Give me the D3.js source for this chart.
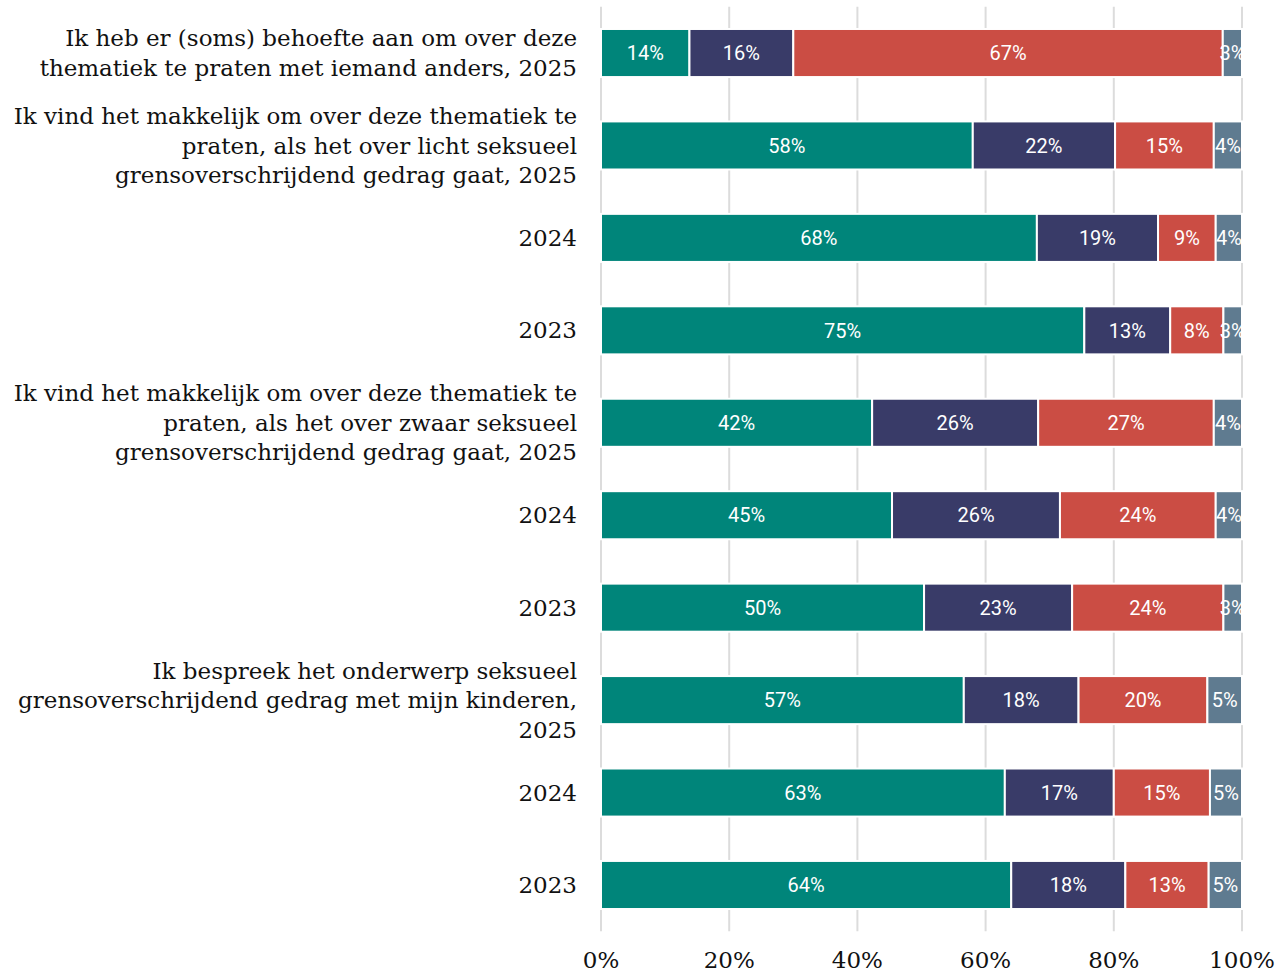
<!DOCTYPE html>
<html>
<head>
<meta charset="utf-8">
<script src="https://cdn.jsdelivr.net/npm/d3@7"></script>
<style>
  body { margin: 0; background: #fff; }
</style>
</head>
<body>
<script>
// row labels, one array of lines per bar
var rowLabels = [
  ["Ik heb er (soms) behoefte aan om over deze", "thematiek te praten met iemand anders, 2025"],
  ["Ik vind het makkelijk om over deze thematiek te", "praten, als het over licht seksueel", "grensoverschrijdend gedrag gaat, 2025"],
  ["2024"],
  ["2023"],
  ["Ik vind het makkelijk om over deze thematiek te", "praten, als het over zwaar seksueel", "grensoverschrijdend gedrag gaat, 2025"],
  ["2024"],
  ["2023"],
  ["Ik bespreek het onderwerp seksueel", "grensoverschrijdend gedrag met mijn kinderen,", "2025"],
  ["2024"],
  ["2023"]
];

// series values (percent)
var serieA = [13.8, 58.0, 68.0, 75.4, 42.3, 45.4, 50.4, 56.6, 63.0, 64.0];
var serieB = [16.2, 22.2, 18.9, 13.4, 25.9, 26.2, 23.1, 17.9, 17.0, 17.8];
var serieC = [67.0, 15.4, 9.0, 8.3, 27.4, 24.3, 23.6, 20.1, 15.0, 13.0];
var serieD = [3.0, 4.4, 4.1, 2.9, 4.4, 4.1, 2.9, 5.4, 5.0, 5.2];

var seriesKeys = ["a", "b", "c", "d"];
var seriesColors = ["#00857a", "#393b68", "#cb4d44", "#5f7b90"];
var tickValues = [0, 20, 40, 60, 80, 100];

var width = 1280, height = 973;
var svg = d3.select("body").append("svg").attr("width", width).attr("height", height);

var rows = rowLabels.map(function(lbl, i) {
  return { i: i, a: serieA[i], b: serieB[i], c: serieC[i], d: serieD[i] };
});

var x = d3.scaleLinear().domain([0, 100]).range([601, 1242]);
var y = d3.scaleBand().domain(d3.range(rows.length)).range([6.8, 931.2])
  .paddingInner(0.48).paddingOuter(0.24);
var color = d3.scaleOrdinal().domain(seriesKeys).range(seriesColors);

// gridlines
svg.append("g").selectAll("line").data(tickValues).enter().append("line")
  .attr("x1", function(d) { return x(d); })
  .attr("x2", function(d) { return x(d); })
  .attr("y1", 6.8).attr("y2", 931.2)
  .attr("stroke", "#dcdcdc").attr("stroke-width", 2);

var stacked = d3.stack().keys(seriesKeys)(rows);

var layer = svg.append("g").selectAll("g").data(stacked).enter().append("g")
  .attr("fill", function(d) { return color(d.key); });

layer.selectAll("rect").data(function(d) { return d; }).enter().append("rect")
  .attr("x", function(d) { return x(d[0]); })
  .attr("width", function(d) { return x(d[1]) - x(d[0]); })
  .attr("y", function(d) { return y(d.data.i); })
  .attr("height", y.bandwidth())
  .attr("stroke", "#fff").attr("stroke-width", 2);

layer.selectAll("text").data(function(d) { return d; }).enter().append("text")
  .attr("x", function(d) { return (x(d[0]) + x(d[1])) / 2; })
  .attr("y", function(d) { return y(d.data.i) + y.bandwidth() / 2; })
  .attr("dy", "0.36em")
  .attr("text-anchor", "middle")
  .attr("fill", "#fff")
  .attr("font-family", "Roboto, sans-serif")
  .attr("font-size", "20px")
  .text(function(d) { return Math.round(d[1] - d[0]) + "%"; });

// row labels
var lineH = 29.5;
var lab = svg.append("g").selectAll("text").data(rowLabels).enter().append("text")
  .attr("text-anchor", "end")
  .attr("font-family", "'DejaVu Serif', serif")
  .attr("font-size", "23px")
  .attr("fill", "#111");
lab.each(function(lines, i) {
  var cy = y(i) + y.bandwidth() / 2;
  var start = cy - (lines.length - 1) * lineH / 2;
  d3.select(this).selectAll("tspan").data(lines).enter().append("tspan")
    .attr("x", 577)
    .attr("y", function(d, j) { return start + j * lineH; })
    .attr("dy", "0.35em")
    .text(function(d) { return d; });
});

// x axis labels
svg.append("g").selectAll("text").data(tickValues).enter().append("text")
  .attr("x", function(d) { return x(d); })
  .attr("y", 968)
  .attr("text-anchor", "middle")
  .attr("font-family", "'DejaVu Serif', serif")
  .attr("font-size", "23px")
  .attr("fill", "#111")
  .text(function(d) { return d + "%"; });
</script>
</body>
</html>
